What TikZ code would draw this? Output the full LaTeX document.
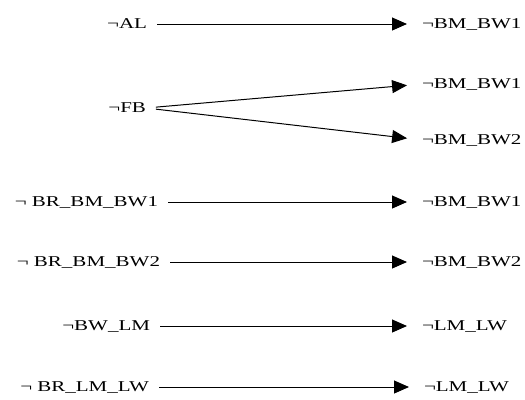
\documentclass[tikz,border=0pt]{standalone}
\usepackage{fontspec}
\setmainfont{Liberation Serif}
\newfontfamily\lblfont[FakeStretch=1.4]{Liberation Serif}
\usetikzlibrary{arrows.meta}
\tikzset{
  lbl/.style={inner sep=0pt, outer sep=0pt, font=\lblfont\fontsize{15bp}{17bp}\selectfont, text height=9.9bp, text depth=0pt},
  src/.style={lbl, anchor=east},
  dst/.style={lbl, anchor=west},
  conn/.style={-{Triangle[length=15bp,width=13bp]}, line width=1bp, shorten <=10bp, shorten >=15bp}
}
\begin{document}
\begin{tikzpicture}[x=1bp,y=-1bp]
\useasboundingbox (0,0) rectangle (525,399);
\node[src] (al) at (147,24) {¬AL};
\node[src] (fb) at (146,108) {¬FB};
\node[src] (brbmbw1) at (158,202) {¬ BR\_BM\_BW1};
\node[src] (brbmbw2) at (160,262) {¬ BR\_BM\_BW2};
\node[src] (bwlm) at (150,326) {¬BW\_LM};
\node[src] (brlmlw) at (149,387) {¬ BR\_LM\_LW};
\node[dst] (t1) at (422,24) {¬BM\_BW1};
\node[dst] (t2) at (422,84) {¬BM\_BW1};
\node[dst] (t3) at (422,140) {¬BM\_BW2};
\node[dst] (t4) at (422,202) {¬BM\_BW1};
\node[dst] (t5) at (422,262) {¬BM\_BW2};
\node[dst] (t6) at (422,326) {¬LM\_LW};
\node[dst] (t7) at (424,387) {¬LM\_LW};
\draw[conn] (al.east) -- (t1.west);
\draw[conn] (fb.east) -- (t2.west);
\draw[conn] (fb.east) -- (t3.west);
\draw[conn] (brbmbw1.east) -- (t4.west);
\draw[conn] (brbmbw2.east) -- (t5.west);
\draw[conn] (bwlm.east) -- (t6.west);
\draw[conn] (brlmlw.east) -- (t7.west);
\end{tikzpicture}
\end{document}
